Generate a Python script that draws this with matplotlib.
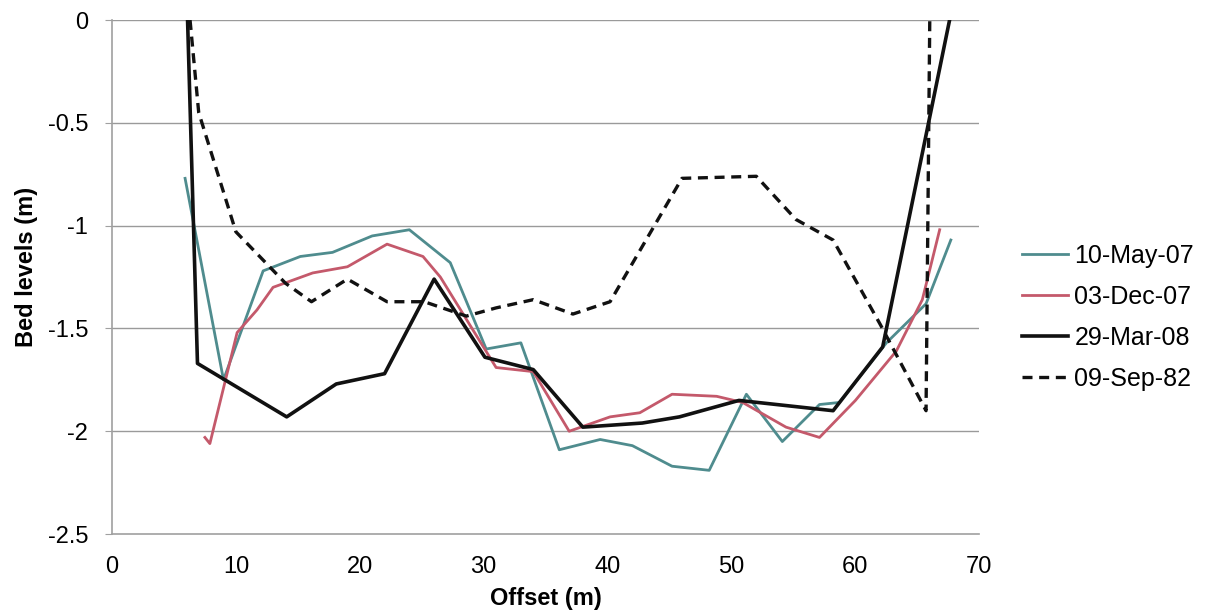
import numpy as np
import matplotlib
matplotlib.use("Agg")
import matplotlib.pyplot as plt

plt.rcParams['font.family'] = ['Liberation Sans', 'DejaVu Sans']

# cross-section surveys: offset (m) vs bed level (m)
may07_x = [5.9, 9.0, 12.2, 15.2, 17.8, 21.0, 24.0, 27.3, 30.2, 33.0, 36.1, 39.4,
           42.0, 45.2, 48.2, 51.2, 54.1, 57.1, 58.7, 62.5, 65.7, 67.7]
may07_y = [-0.77, -1.75, -1.22, -1.15, -1.13, -1.05, -1.02, -1.18, -1.60, -1.57, -2.09, -2.04,
           -2.07, -2.17, -2.19, -1.82, -2.05, -1.87, -1.86, -1.57, -1.38, -1.07]

dec07_x = [7.5, 7.9, 10.1, 11.7, 13.0, 16.2, 19.0, 22.2, 25.1, 26.5, 31.0, 34.0, 36.9,
           40.2, 42.6, 45.2, 48.8, 50.9, 54.4, 57.1, 60.0, 63.3, 65.4, 66.8]
dec07_y = [-2.03, -2.06, -1.52, -1.41, -1.30, -1.23, -1.20, -1.09, -1.15, -1.25, -1.69, -1.71, -2.00,
           -1.93, -1.91, -1.82, -1.83, -1.86, -1.98, -2.03, -1.85, -1.61, -1.36, -1.02]

mar08_x = [6.1, 6.9, 14.1, 18.1, 22.0, 26.0, 30.1, 34.0, 38.0, 42.8, 45.8, 50.6, 58.2, 62.2, 67.6]
mar08_y = [0.0, -1.67, -1.93, -1.77, -1.72, -1.26, -1.64, -1.70, -1.98, -1.96, -1.93, -1.85, -1.90, -1.59, 0.0]

sep82_x = [6.3, 7.0, 10.0, 14.0, 16.1, 19.0, 22.2, 25.2, 28.6, 31.0, 34.0, 37.2, 40.2,
           46.0, 52.0, 55.2, 58.2, 62.0, 65.7, 66.0]
sep82_y = [0.0, -0.45, -1.03, -1.28, -1.37, -1.26, -1.37, -1.37, -1.44, -1.40, -1.36, -1.43, -1.37,
           -0.77, -0.76, -0.97, -1.07, -1.48, -1.90, 0.0]

x_ticks = [0, 10, 20, 30, 40, 50, 60, 70]
y_ticks = [0, -0.5, -1, -1.5, -2, -2.5]
y_labels = ['0', '-0.5', '-1', '-1.5', '-2', '-2.5']

fig = plt.figure(figsize=(12.08, 6.16), dpi=100)
ax = fig.add_axes([0.0927, 0.133, 0.718, 0.8345])

ax.plot(may07_x, may07_y, color='#4f8c8e', lw=2.0, label='10-May-07')
ax.plot(dec07_x, dec07_y, color='#c4596b', lw=2.0, label='03-Dec-07')
ax.plot(mar08_x, mar08_y, color='#111111', lw=2.6, label='29-Mar-08')
ax.plot(sep82_x, sep82_y, color='#111111', lw=2.4, ls=(0, (3, 2)), label='09-Sep-82')

ax.set_xlim(0, 70)
ax.set_ylim(-2.5, 0)
ax.set_xticks(x_ticks)
ax.set_yticks(y_ticks)
ax.set_yticklabels(y_labels)

for yv in y_ticks[:-1]:
    ax.axhline(yv, color='#9a9a9a', lw=1.0, zorder=0)

for side in ['top', 'right']:
    ax.spines[side].set_visible(False)
for side in ['left', 'bottom']:
    ax.spines[side].set_color('#a0a0a0')
    ax.spines[side].set_linewidth(1.2)

ax.tick_params(axis='y', length=5, color='#a0a0a0', labelsize=17, pad=12)
ax.tick_params(axis='x', length=0, labelsize=17, pad=16)

ax.set_xlabel('Offset (m)', fontsize=17, fontweight='bold', labelpad=6)
ax.set_ylabel('Bed levels (m)', fontsize=17, fontweight='bold')
ax.yaxis.set_label_coords(-0.085, 0.52)

fig.legend(loc='center left', bbox_to_anchor=(0.846, 0.485), frameon=False,
           borderpad=0, borderaxespad=0,
           fontsize=18, handlelength=1.85, handletextpad=0.25, labelspacing=0.68)

fig.savefig('out.png', dpi=100)
